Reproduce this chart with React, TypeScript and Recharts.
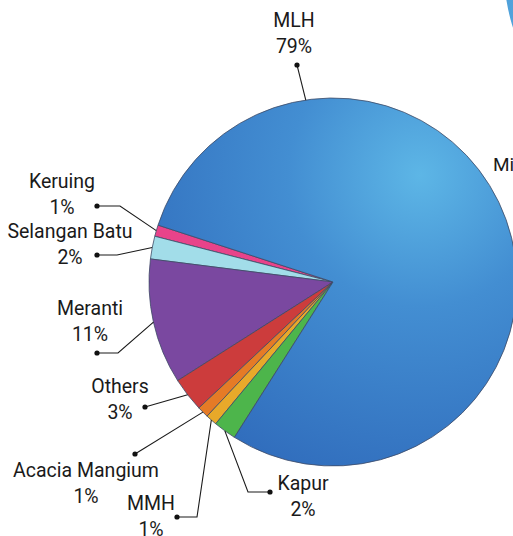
import { PieChart, Pie, Cell } from 'recharts';

// slices in drawing order (counter-clockwise from the upper-left)
const species = ['Keruing', 'Selangan Batu', 'Meranti', 'Others', 'Acacia Mangium', 'MMH', 'Kapur', 'MLH'];
const shares = [1, 2, 11, 3, 1, 1, 2, 79];
const sliceColors = ['#e8438a', '#a2dde9', '#7a48a0', '#cc3c3c', '#e57b26', '#e8a92a', '#4db54b', 'url(#mlhBlue)'];

// the neighbouring chart, only its edge shows
const nextChart = [{ name: 'Mi', value: 100 }];

const data = species.map((name, i) => ({ name, value: shares[i] }));

// where each callout sits (text centre, name baseline, dot, elbow)
const callouts = [
  { tx: 62, ty: 188, dot: [97, 206], elbow: 120 },
  { tx: 70, ty: 238, dot: [97, 255], elbow: 117 },
  { tx: 90, ty: 315, dot: [97, 353], elbow: 118 },
  { tx: 120, ty: 393, dot: [145, 407] },
  { tx: 86, ty: 477, dot: [135, 454] },
  { tx: 151, ty: 510, dot: [177, 517], elbow: 197 },
  { tx: 303, ty: 490, dot: [270, 492], elbow: 248 },
  { tx: 294, ty: 27, dot: [297, 65], angle: 98.5 },
];

const RAD = Math.PI / 180;
const font = 'Roboto, "Liberation Sans", Arial, sans-serif';

const renderCallout = (props: any) => {
  const { cx, cy, midAngle, outerRadius, index } = props;
  const c = callouts[index];
  if (!c) return null;
  const ang = c.angle ?? midAngle;
  const ax = cx + outerRadius * Math.cos(-ang * RAD);
  const ay = cy + outerRadius * Math.sin(-ang * RAD);
  const [dx, dy] = c.dot;
  const pts = c.elbow !== undefined
    ? `${dx},${dy} ${c.elbow},${dy} ${ax},${ay}`
    : `${dx},${dy} ${ax},${ay}`;
  return (
    <g key={`callout-${index}`}>
      <polyline points={pts} fill="none" stroke="#1a1a1a" strokeWidth={1.1} />
      <circle cx={dx} cy={dy} r={2.6} fill="#111" />
      <text x={c.tx} y={c.ty} textAnchor="middle" fontFamily={font} fontSize={19.5} fill="#1a1a1a">
        {species[index]}
      </text>
      <text x={c.tx} y={c.ty + 26} textAnchor="middle" fontFamily={font} fontSize={19.5} fill="#1a1a1a">
        {`${shares[index]}%`}
      </text>
    </g>
  );
};

export default function App() {
  return (
    <div style={{ position: 'absolute', left: 0, top: 0, background: '#fff' }}>
      <PieChart width={513} height={536} margin={{ top: 0, right: 0, bottom: 0, left: 0 }}>
        <defs>
          <radialGradient id="mlhBlue" gradientUnits="userSpaceOnUse" cx={420} cy={175} r={330}>
            <stop offset="0%" stopColor="#5db6e6" />
            <stop offset="40%" stopColor="#438ed2" />
            <stop offset="100%" stopColor="#306cbc" />
          </radialGradient>
          <radialGradient id="nextBlue" gradientUnits="userSpaceOnUse" cx={560} cy={10} r={120}>
            <stop offset="0%" stopColor="#5db6e6" />
            <stop offset="100%" stopColor="#3e86cc" />
          </radialGradient>
        </defs>
        <Pie
          data={nextChart}
          dataKey="value"
          cx={694}
          cy={-30}
          outerRadius={190}
          stroke="none"
          fill="url(#nextBlue)"
          isAnimationActive={false}
        />
        <Pie
          data={data}
          dataKey="value"
          cx={333}
          cy={282}
          outerRadius={184}
          startAngle={162}
          endAngle={522}
          stroke="#3d4a66"
          strokeWidth={0.8}
          label={renderCallout}
          labelLine={false}
          isAnimationActive={false}
        >
          {data.map((d, i) => (
            <Cell key={d.name} fill={sliceColors[i]} />
          ))}
        </Pie>
        <text x={493} y={171} fontFamily={font} fontSize={19} fill="#1a1a1a">
          {nextChart[0].name}
        </text>
      </PieChart>
    </div>
  );
}
